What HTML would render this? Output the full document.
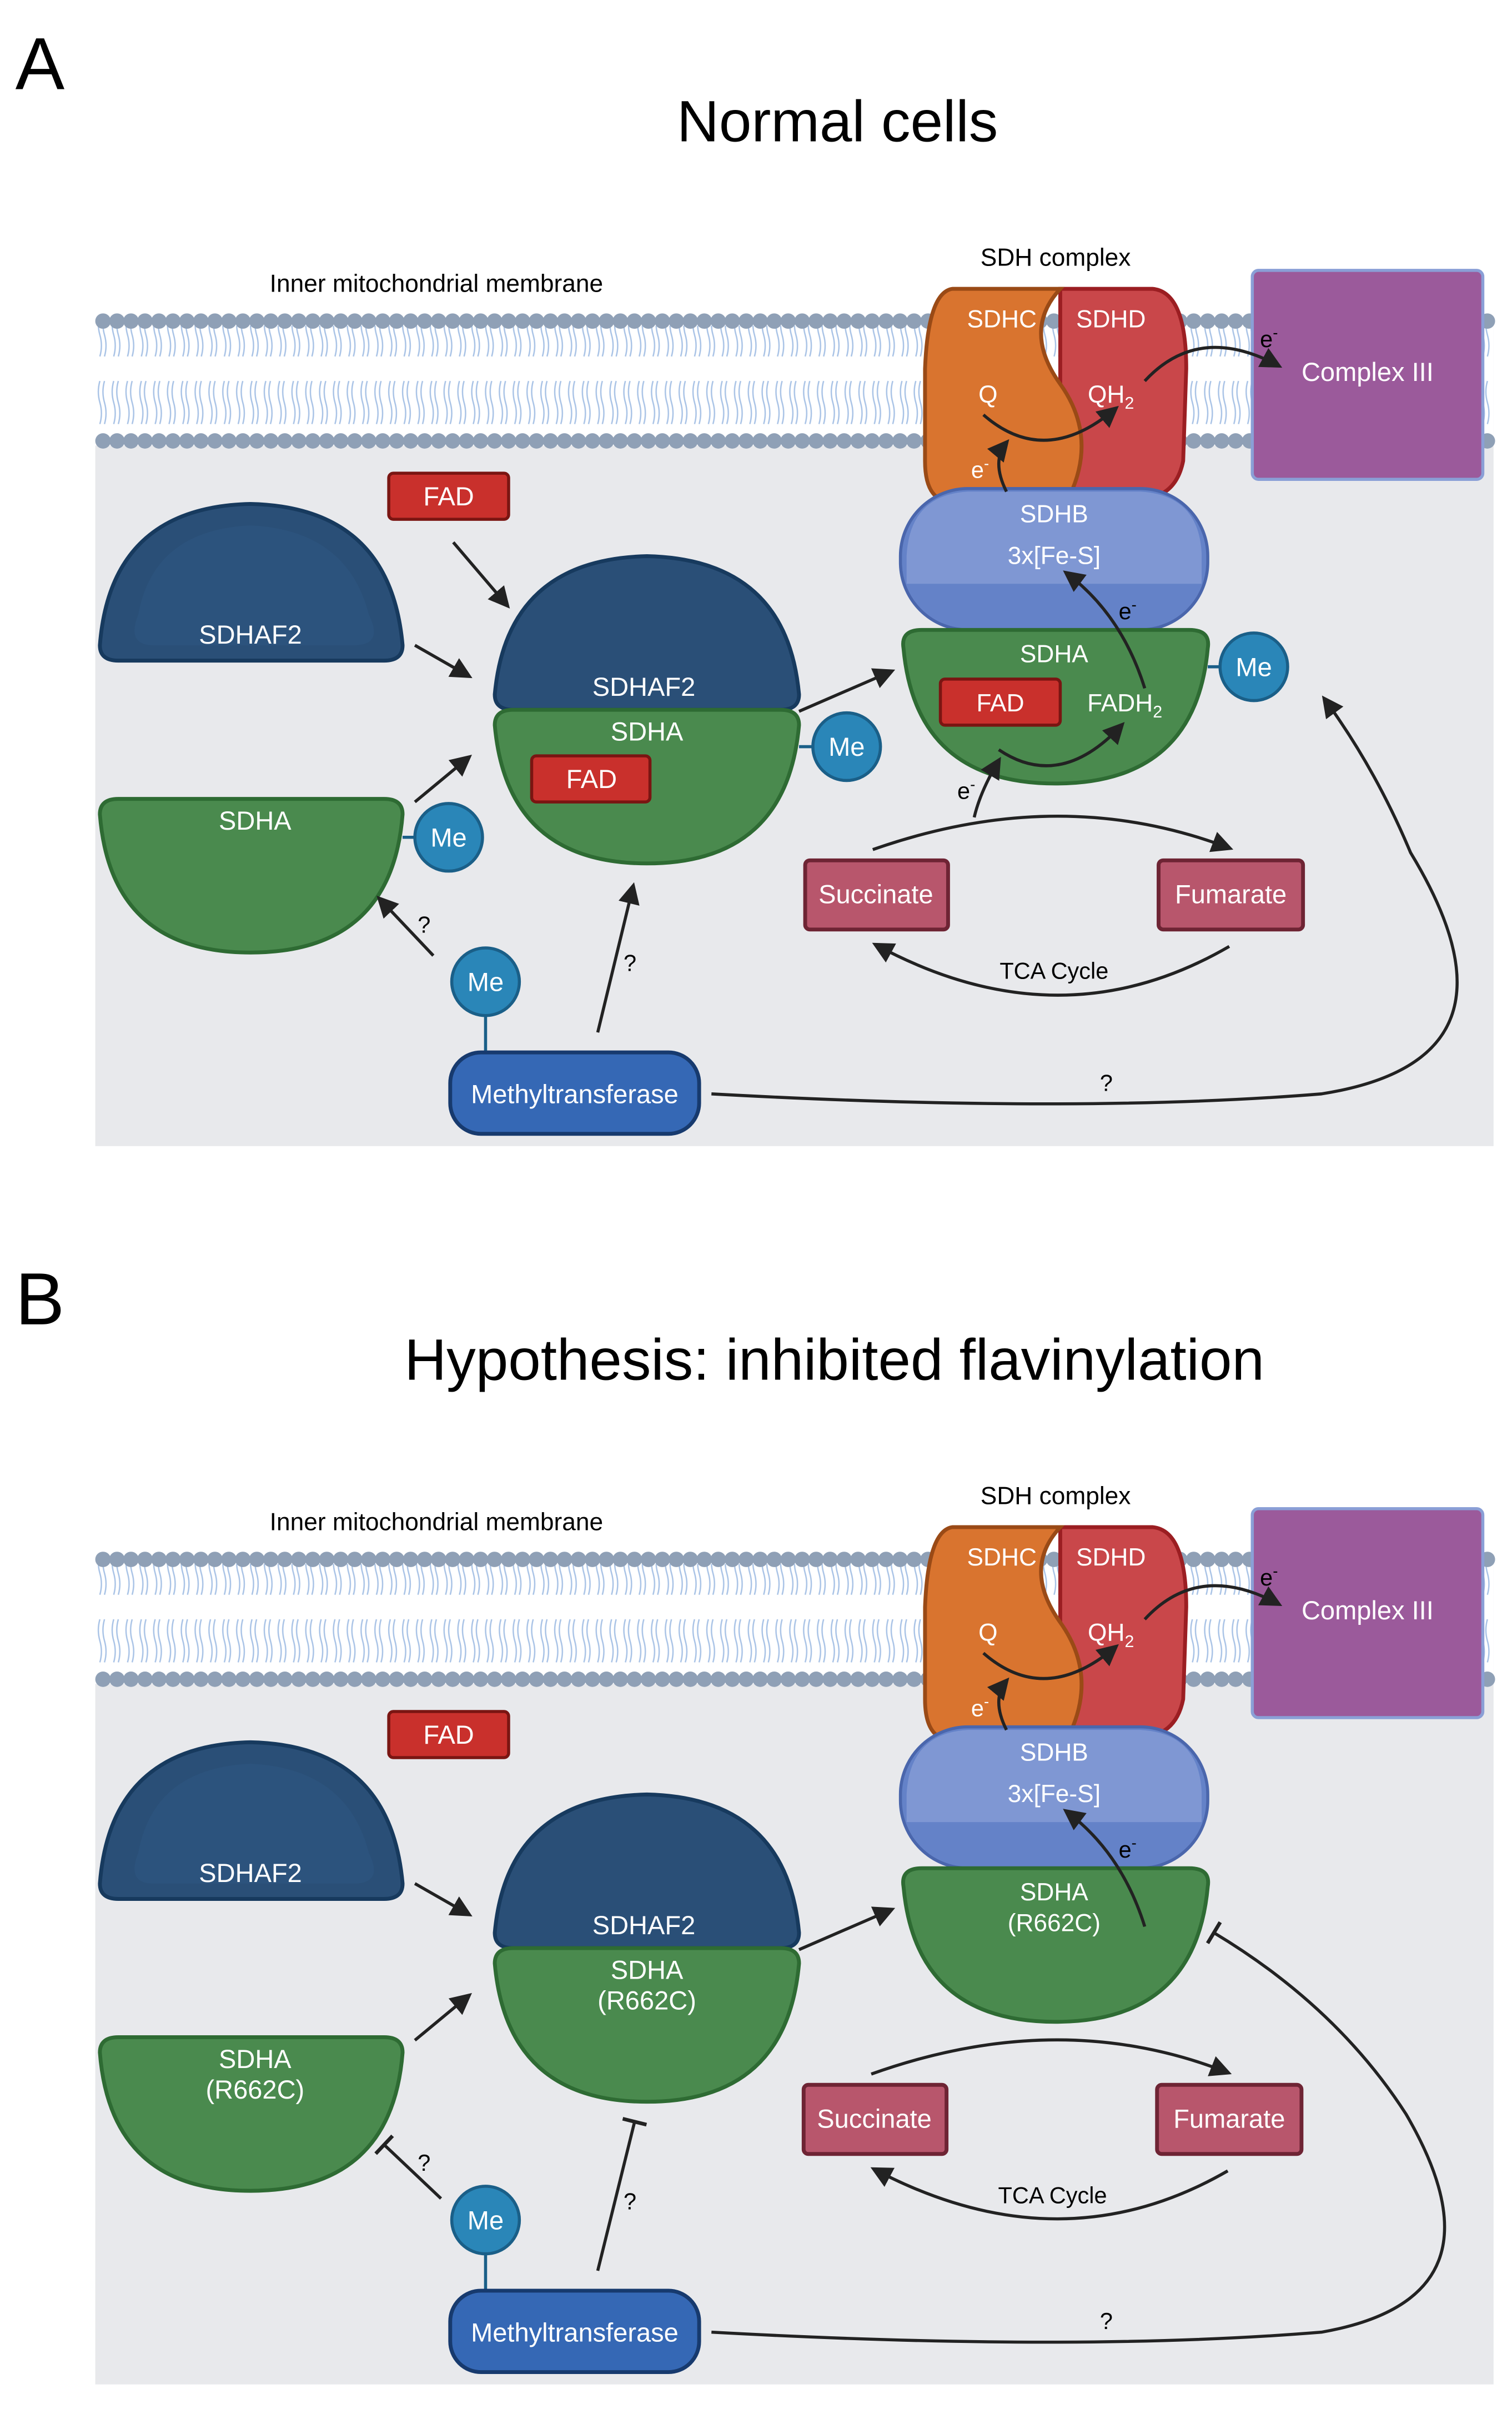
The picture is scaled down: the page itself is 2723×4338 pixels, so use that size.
<!DOCTYPE html>
<html><head><meta charset="utf-8"><style>
html,body{margin:0;padding:0;background:#fff}
svg{display:block}
text{font-family:"Liberation Sans",Arial,sans-serif}
</style></head><body>
<svg width="2723" height="4338" viewBox="0 0 984 1568" preserveAspectRatio="none" xmlns="http://www.w3.org/2000/svg">
<defs>
<pattern id="lip" x="62" y="0" width="9" height="80" patternUnits="userSpaceOnUse">
<path d="M3,8 q-2,7 0,14 q2,7 0,14 M6,8 q-2,7 0,14 q2,7 0,14 M3,44 q-2,7 0,14 q2,7 0,14 M6,44 q-2,7 0,14 q2,7 0,14" stroke="#a9c3e6" stroke-width="0.9" fill="none"/>
</pattern>
<marker id="ah" viewBox="0 0 10 10" refX="8" refY="5" markerWidth="7" markerHeight="7" orient="auto-start-reverse"><path d="M0,0 L10,5 L0,10 z" fill="#222"/></marker>
<marker id="tb" viewBox="0 0 10 10" refX="5" refY="5" markerWidth="8" markerHeight="8" orient="auto"><path d="M5,0 L5,10" stroke="#222" stroke-width="1.5"/></marker>
</defs>

<text x="10" y="58" font-size="48">A</text>
<text x="545" y="92" font-size="38" text-anchor="middle">Normal cells</text>
<text x="10" y="862" font-size="48">B</text>
<text x="543" y="898" font-size="38" text-anchor="middle">Hypothesis: inhibited flavinylation</text>

<!-- PANEL A -->
<g id="pA">
<rect x="62" y="205" width="910" height="541" fill="#e8e9ec"/>
<rect x="62" y="200" width="910" height="90" fill="#fff"/>
<rect x="62" y="212" width="910" height="72" fill="url(#lip)"/>
<line x1="67" y1="209" x2="972" y2="209" stroke="#8fa0b6" stroke-width="10" stroke-dasharray="0.1 9" stroke-linecap="round"/>
<line x1="67" y1="287" x2="972" y2="287" stroke="#8fa0b6" stroke-width="10" stroke-dasharray="0.1 9" stroke-linecap="round"/>
<text x="284" y="190" font-size="16" text-anchor="middle">Inner mitochondrial membrane</text>
<text x="687" y="173" font-size="16" text-anchor="middle">SDH complex</text>

<rect x="815" y="176" width="150" height="136" rx="4" fill="#9b5a9b" stroke="#8a9fd6" stroke-width="2"/>
<text x="890" y="248" font-size="17" fill="#fff" text-anchor="middle">Complex III</text>

<path d="M690,188 L750,188 Q772,190 772,240 L770,300 Q765,325 740,325 L690,325 Z" fill="#c9474a" stroke="#9b1e22" stroke-width="2.5"/>
<path d="M620,188 L690,188 Q665,215 690,250 Q715,285 695,325 L612,325 Q602,320 602,300 L602,240 Q604,190 620,188 Z" fill="#d9742f" stroke="#9a4a16" stroke-width="2.5"/>
<text x="652" y="213" font-size="16" fill="#fff" text-anchor="middle">SDHC</text>
<text x="723" y="213" font-size="16" fill="#fff" text-anchor="middle">SDHD</text>
<text x="643" y="262" font-size="16" fill="#fff" text-anchor="middle">Q</text>
<text x="723" y="262" font-size="16" fill="#fff" text-anchor="middle">QH<tspan font-size="11" dy="4">2</tspan></text>
<text x="632" y="311" font-size="15" fill="#fff">e<tspan font-size="10" dy="-6">-</tspan></text>
<rect x="586" y="318" width="200" height="92" rx="44" fill="#6482c8" stroke="#4a66ac" stroke-width="2"/>
<path d="M630,320 L742,320 Q780,322 782,360 L782,380 L590,380 L590,362 Q592,322 630,320Z" fill="#7f97d3"/>
<text x="686" y="340" font-size="16" fill="#fff" text-anchor="middle">SDHB</text>
<text x="686" y="367" font-size="16" fill="#fff" text-anchor="middle">3x[Fe-S]</text>
<text x="728" y="403" font-size="15">e<tspan font-size="10" dy="-6">-</tspan></text>
<path d="M600,410 L774,410 Q788,410 786,422 Q778,510 687,510 Q596,510 588,422 Q586,410 600,410Z" fill="#4a8a4e" stroke="#2e6b33" stroke-width="2.5"/>
<text x="686" y="431" font-size="16" fill="#fff" text-anchor="middle">SDHA</text>
<rect x="612" y="442" width="78" height="30" rx="3" fill="#c9302c" stroke="#7a1512" stroke-width="2"/>
<text x="651" y="463" font-size="16" fill="#fff" text-anchor="middle">FAD</text>
<text x="732" y="463" font-size="16" fill="#fff" text-anchor="middle">FADH<tspan font-size="11" dy="4">2</tspan></text>
<circle cx="816" cy="434" r="22" fill="#2a86b8" stroke="#1a5f88" stroke-width="2"/>
<text x="816" y="440" font-size="17" fill="#fff" text-anchor="middle">Me</text>
<line x1="786" y1="434" x2="794" y2="434" stroke="#1a5f88" stroke-width="2"/>

<path d="M650,488 Q690,515 730,472" fill="none" stroke="#222" stroke-width="2" marker-end="url(#ah)"/>
<path d="M745,448 Q730,400 694,373" fill="none" stroke="#222" stroke-width="2" marker-end="url(#ah)"/>
<path d="M655,320 Q645,300 655,288" fill="none" stroke="#222" stroke-width="2" marker-end="url(#ah)"/>
<path d="M640,270 Q680,305 726,266" fill="none" stroke="#222" stroke-width="2" marker-end="url(#ah)"/>
<path d="M745,248 Q780,210 832,238" fill="none" stroke="#222" stroke-width="2" marker-end="url(#ah)"/>
<text x="820" y="226" font-size="15">e<tspan font-size="10" dy="-6">-</tspan></text>
<path d="M634,532 Q638,515 650,495" fill="none" stroke="#222" stroke-width="2" marker-end="url(#ah)"/>
<text x="623" y="520" font-size="15">e<tspan font-size="10" dy="-6">-</tspan></text>

<rect x="524" y="560" width="93" height="45" rx="3" fill="#b8566c" stroke="#6e2434" stroke-width="2.5"/>
<text x="570" y="588" font-size="17" fill="#fff" text-anchor="middle">Succinate</text>
<rect x="754" y="560" width="94" height="45" rx="3" fill="#b8566c" stroke="#6e2434" stroke-width="2.5"/>
<text x="801" y="588" font-size="17" fill="#fff" text-anchor="middle">Fumarate</text>
<path d="M568,553 Q690,510 800,552" fill="none" stroke="#222" stroke-width="2" marker-end="url(#ah)"/>
<path d="M800,616 Q690,680 570,615" fill="none" stroke="#222" stroke-width="2" marker-end="url(#ah)"/>
<text x="686" y="637" font-size="15" text-anchor="middle">TCA Cycle</text>

<path d="M65,420 Q72,330 163,328 Q254,330 262,420 Q262,430 250,430 L77,430 Q65,430 65,420Z" fill="#2a4f77" stroke="#173a5e" stroke-width="2.5"/>
<path d="M90,400 Q100,345 163,342 Q226,345 240,400 Q250,420 230,420 L100,420 Q82,420 90,400Z" fill="#2f5782" opacity="0.6"/>
<text x="163" y="419" font-size="17" fill="#fff" text-anchor="middle">SDHAF2</text>
<path d="M77,520 L250,520 Q262,520 262,530 Q255,620 163,620 Q72,620 65,530 Q65,520 77,520Z" fill="#4a8a4e" stroke="#2e6b33" stroke-width="2.5"/>
<text x="166" y="540" font-size="17" fill="#fff" text-anchor="middle">SDHA</text>
<circle cx="292" cy="545" r="22" fill="#2a86b8" stroke="#1a5f88" stroke-width="2"/>
<text x="292" y="551" font-size="17" fill="#fff" text-anchor="middle">Me</text>
<line x1="262" y1="545" x2="270" y2="545" stroke="#1a5f88" stroke-width="2"/>

<rect x="253" y="308" width="78" height="30" rx="3" fill="#c9302c" stroke="#7a1512" stroke-width="2"/>
<text x="292" y="329" font-size="17" fill="#fff" text-anchor="middle">FAD</text>

<path d="M322,452 Q330,364 421,362 Q512,364 520,452 Q520,462 508,462 L334,462 Q322,462 322,452Z" fill="#2a4f77" stroke="#173a5e" stroke-width="2.5"/>
<text x="419" y="453" font-size="17" fill="#fff" text-anchor="middle">SDHAF2</text>
<path d="M334,462 L508,462 Q520,462 520,472 Q512,562 421,562 Q330,562 322,472 Q322,462 334,462Z" fill="#4a8a4e" stroke="#2e6b33" stroke-width="2.5"/>
<text x="421" y="482" font-size="17" fill="#fff" text-anchor="middle">SDHA</text>
<rect x="346" y="492" width="77" height="30" rx="3" fill="#c9302c" stroke="#7a1512" stroke-width="2"/>
<text x="385" y="513" font-size="17" fill="#fff" text-anchor="middle">FAD</text>
<circle cx="551" cy="486" r="22" fill="#2a86b8" stroke="#1a5f88" stroke-width="2"/>
<text x="551" y="492" font-size="17" fill="#fff" text-anchor="middle">Me</text>
<line x1="520" y1="486" x2="529" y2="486" stroke="#1a5f88" stroke-width="2"/>

<line x1="295" y1="353" x2="330" y2="394" stroke="#222" stroke-width="2" marker-end="url(#ah)"/>
<line x1="270" y1="420" x2="305" y2="440" stroke="#222" stroke-width="2" marker-end="url(#ah)"/>
<line x1="270" y1="522" x2="305" y2="493" stroke="#222" stroke-width="2" marker-end="url(#ah)"/>
<line x1="520" y1="463" x2="580" y2="437" stroke="#222" stroke-width="2" marker-end="url(#ah)"/>

<circle cx="316" cy="639" r="22" fill="#2a86b8" stroke="#1a5f88" stroke-width="2"/>
<text x="316" y="645" font-size="17" fill="#fff" text-anchor="middle">Me</text>
<line x1="316" y1="661" x2="316" y2="686" stroke="#1a5f88" stroke-width="2"/>
<line x1="282" y1="622" x2="247" y2="585" stroke="#222" stroke-width="2" marker-end="url(#ah)"/>
<text x="276" y="607" font-size="15" text-anchor="middle">?</text>
<rect x="293" y="685" width="162" height="53" rx="20" fill="#3568b5" stroke="#173a6e" stroke-width="2.5"/>
<text x="374" y="718" font-size="17" fill="#fff" text-anchor="middle">Methyltransferase</text>
<line x1="389" y1="672" x2="412" y2="577" stroke="#222" stroke-width="2" marker-end="url(#ah)"/>
<text x="410" y="632" font-size="15" text-anchor="middle">?</text>
<path d="M463,712 Q700,725 860,712 Q1000,690 918,555 Q895,500 862,455" fill="none" stroke="#222" stroke-width="2" marker-end="url(#ah)"/>
<text x="720" y="710" font-size="15" text-anchor="middle">?</text>
</g>

<!-- PANEL B -->
<g transform="translate(0,806)">
<rect x="62" y="205" width="910" height="541" fill="#e8e9ec"/>
<rect x="62" y="200" width="910" height="90" fill="#fff"/>
<rect x="62" y="212" width="910" height="72" fill="url(#lip)"/>
<line x1="67" y1="209" x2="972" y2="209" stroke="#8fa0b6" stroke-width="10" stroke-dasharray="0.1 9" stroke-linecap="round"/>
<line x1="67" y1="287" x2="972" y2="287" stroke="#8fa0b6" stroke-width="10" stroke-dasharray="0.1 9" stroke-linecap="round"/>
<text x="284" y="190" font-size="16" text-anchor="middle">Inner mitochondrial membrane</text>
<text x="687" y="173" font-size="16" text-anchor="middle">SDH complex</text>

<rect x="815" y="176" width="150" height="136" rx="4" fill="#9b5a9b" stroke="#8a9fd6" stroke-width="2"/>
<text x="890" y="248" font-size="17" fill="#fff" text-anchor="middle">Complex III</text>
<path d="M690,188 L750,188 Q772,190 772,240 L770,300 Q765,325 740,325 L690,325 Z" fill="#c9474a" stroke="#9b1e22" stroke-width="2.5"/>
<path d="M620,188 L690,188 Q665,215 690,250 Q715,285 695,325 L612,325 Q602,320 602,300 L602,240 Q604,190 620,188 Z" fill="#d9742f" stroke="#9a4a16" stroke-width="2.5"/>
<text x="652" y="213" font-size="16" fill="#fff" text-anchor="middle">SDHC</text>
<text x="723" y="213" font-size="16" fill="#fff" text-anchor="middle">SDHD</text>
<text x="643" y="262" font-size="16" fill="#fff" text-anchor="middle">Q</text>
<text x="723" y="262" font-size="16" fill="#fff" text-anchor="middle">QH<tspan font-size="11" dy="4">2</tspan></text>
<text x="632" y="311" font-size="15" fill="#fff">e<tspan font-size="10" dy="-6">-</tspan></text>
<rect x="586" y="318" width="200" height="92" rx="44" fill="#6482c8" stroke="#4a66ac" stroke-width="2"/>
<path d="M630,320 L742,320 Q780,322 782,360 L782,380 L590,380 L590,362 Q592,322 630,320Z" fill="#7f97d3"/>
<text x="686" y="340" font-size="16" fill="#fff" text-anchor="middle">SDHB</text>
<text x="686" y="367" font-size="16" fill="#fff" text-anchor="middle">3x[Fe-S]</text>
<text x="728" y="403" font-size="15">e<tspan font-size="10" dy="-6">-</tspan></text>
<path d="M600,410 L774,410 Q788,410 786,422 Q778,510 687,510 Q596,510 588,422 Q586,410 600,410Z" fill="#4a8a4e" stroke="#2e6b33" stroke-width="2.5"/>
<text x="686" y="431" font-size="16" fill="#fff" text-anchor="middle">SDHA</text>
<text x="686" y="451" font-size="16" fill="#fff" text-anchor="middle">(R662C)</text>

<path d="M745,448 Q730,400 694,373" fill="none" stroke="#222" stroke-width="2" marker-end="url(#ah)"/>
<path d="M655,320 Q645,300 655,288" fill="none" stroke="#222" stroke-width="2" marker-end="url(#ah)"/>
<path d="M640,270 Q680,305 726,266" fill="none" stroke="#222" stroke-width="2" marker-end="url(#ah)"/>
<path d="M745,248 Q780,210 832,238" fill="none" stroke="#222" stroke-width="2" marker-end="url(#ah)"/>
<text x="820" y="226" font-size="15">e<tspan font-size="10" dy="-6">-</tspan></text>

<rect x="523" y="551" width="93" height="45" rx="3" fill="#b8566c" stroke="#6e2434" stroke-width="2.5"/>
<text x="569" y="579" font-size="17" fill="#fff" text-anchor="middle">Succinate</text>
<rect x="753" y="551" width="94" height="45" rx="3" fill="#b8566c" stroke="#6e2434" stroke-width="2.5"/>
<text x="800" y="579" font-size="17" fill="#fff" text-anchor="middle">Fumarate</text>
<path d="M567,544 Q690,500 799,543" fill="none" stroke="#222" stroke-width="2" marker-end="url(#ah)"/>
<path d="M799,607 Q690,670 569,606" fill="none" stroke="#222" stroke-width="2" marker-end="url(#ah)"/>
<text x="685" y="628" font-size="15" text-anchor="middle">TCA Cycle</text>

<path d="M65,420 Q72,330 163,328 Q254,330 262,420 Q262,430 250,430 L77,430 Q65,430 65,420Z" fill="#2a4f77" stroke="#173a5e" stroke-width="2.5"/>
<path d="M90,400 Q100,345 163,342 Q226,345 240,400 Q250,420 230,420 L100,420 Q82,420 90,400Z" fill="#2f5782" opacity="0.6"/>
<text x="163" y="419" font-size="17" fill="#fff" text-anchor="middle">SDHAF2</text>
<path d="M77,520 L250,520 Q262,520 262,530 Q255,620 163,620 Q72,620 65,530 Q65,520 77,520Z" fill="#4a8a4e" stroke="#2e6b33" stroke-width="2.5"/>
<text x="166" y="540" font-size="17" fill="#fff" text-anchor="middle">SDHA</text>
<text x="166" y="560" font-size="17" fill="#fff" text-anchor="middle">(R662C)</text>

<rect x="253" y="308" width="78" height="30" rx="3" fill="#c9302c" stroke="#7a1512" stroke-width="2"/>
<text x="292" y="329" font-size="17" fill="#fff" text-anchor="middle">FAD</text>

<path d="M322,452 Q330,364 421,362 Q512,364 520,452 Q520,462 508,462 L334,462 Q322,462 322,452Z" fill="#2a4f77" stroke="#173a5e" stroke-width="2.5"/>
<text x="419" y="453" font-size="17" fill="#fff" text-anchor="middle">SDHAF2</text>
<path d="M334,462 L508,462 Q520,462 520,472 Q512,562 421,562 Q330,562 322,472 Q322,462 334,462Z" fill="#4a8a4e" stroke="#2e6b33" stroke-width="2.5"/>
<text x="421" y="482" font-size="17" fill="#fff" text-anchor="middle">SDHA</text>
<text x="421" y="502" font-size="17" fill="#fff" text-anchor="middle">(R662C)</text>

<line x1="270" y1="420" x2="305" y2="440" stroke="#222" stroke-width="2" marker-end="url(#ah)"/>
<line x1="270" y1="522" x2="305" y2="493" stroke="#222" stroke-width="2" marker-end="url(#ah)"/>
<line x1="520" y1="463" x2="580" y2="437" stroke="#222" stroke-width="2" marker-end="url(#ah)"/>

<circle cx="316" cy="639" r="22" fill="#2a86b8" stroke="#1a5f88" stroke-width="2"/>
<text x="316" y="645" font-size="17" fill="#fff" text-anchor="middle">Me</text>
<line x1="316" y1="661" x2="316" y2="686" stroke="#1a5f88" stroke-width="2"/>
<line x1="287" y1="625" x2="250" y2="590" stroke="#222" stroke-width="2" marker-end="url(#tb)"/>
<text x="276" y="607" font-size="15" text-anchor="middle">?</text>
<rect x="293" y="685" width="162" height="53" rx="20" fill="#3568b5" stroke="#173a6e" stroke-width="2.5"/>
<text x="374" y="718" font-size="17" fill="#fff" text-anchor="middle">Methyltransferase</text>
<line x1="389" y1="672" x2="413" y2="575" stroke="#222" stroke-width="2" marker-end="url(#tb)"/>
<text x="410" y="632" font-size="15" text-anchor="middle">?</text>
<path d="M463,712 Q700,725 860,712 Q985,690 915,570 Q870,500 790,452" fill="none" stroke="#222" stroke-width="2" marker-end="url(#tb)"/>
<text x="720" y="710" font-size="15" text-anchor="middle">?</text>
</g>
</svg>
</body></html>
